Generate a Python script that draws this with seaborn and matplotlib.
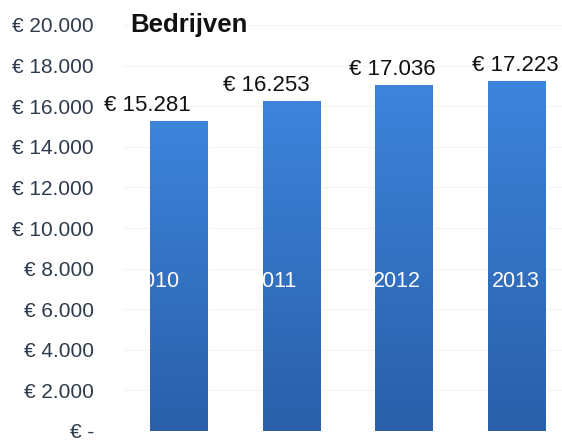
import numpy as np
import matplotlib
matplotlib.use('Agg')
import matplotlib.pyplot as plt
import matplotlib.colors as mcolors
import seaborn as sns
import pandas as pd

# ==============================
# Data
# ==============================

years = ['2010', '2011', '2012', '2013']
revenue = [15281, 16253, 17036, 17223]
value_labels = ['€ 15.281', '€ 16.253', '€ 17.036', '€ 17.223']
y_ticks = [0, 2000, 4000, 6000, 8000, 10000, 12000, 14000, 16000, 18000, 20000]
y_tick_labels = ['€ -', '€ 2.000', '€ 4.000', '€ 6.000', '€ 8.000', '€ 10.000',
                 '€ 12.000', '€ 14.000', '€ 16.000', '€ 18.000', '€ 20.000']
# labels sit a bit left of the bar centre in the original
label_shift = [-0.28, -0.23, -0.11, -0.01]
year_shift = [-0.21, -0.16, -0.07, -0.01]

df = pd.DataFrame({'Jaar': years, 'Omzet': revenue})

# ==============================
# Plot
# ==============================

sns.set_style("white")
plt.rcParams['font.family'] = ['Liberation Sans', 'DejaVu Sans']

fig = plt.figure(figsize=(5.62, 4.41), dpi=100)
ax = fig.add_axes([123 / 562, 10 / 441, 439 / 562, 406 / 441])

sns.barplot(data=df, x='Jaar', y='Omzet', color='#3578c8', width=0.515,
            saturation=1, ax=ax, zorder=2)

# vertical gradient on each bar
cmap = mcolors.LinearSegmentedColormap.from_list('bar', ['#2a5fa9', '#3d84dc'])
grad = np.linspace(0, 1, 256).reshape(-1, 1)
for p in ax.patches:
    x0, y0 = p.get_x(), p.get_y()
    w, h = p.get_width(), p.get_height()
    im = ax.imshow(grad, cmap=cmap, origin='lower', aspect='auto',
                   extent=[x0, x0 + w, y0, y0 + h], zorder=3)
    im.set_clip_path(p)

ax.set_ylim(0, 20000)
ax.set_xlim(-0.5, 3.402)
ax.set_yticks(y_ticks)
ax.set_yticklabels(y_tick_labels, fontsize=15, color='#2d3b4c')
ax.tick_params(axis='y', length=0, pad=21)
ax.set_xticks([])
ax.set_xlabel('')
ax.set_ylabel('')
ax.yaxis.grid(True, color='#f3f3f3', linewidth=0.8, zorder=0)
for s in ax.spines.values():
    s.set_visible(False)

# value labels above bars
for i, (v, lab) in enumerate(zip(revenue, value_labels)):
    ax.text(i + label_shift[i], v + 250, lab, ha='center', va='bottom',
            fontsize=16, color='#111111', zorder=5)

# year labels inside bars, white (invisible outside bar)
for i, y in enumerate(years):
    ax.text(i + year_shift[i], 7350, y, ha='center', va='center',
            fontsize=15.5, color='white', zorder=5)

fig.text(130 / 562, 1 - 25 / 441, 'Bedrijven', fontsize=18.5, fontweight='bold',
         color='#111111', ha='left', va='center')

plt.savefig('out.png', dpi=100)
plt.close()
